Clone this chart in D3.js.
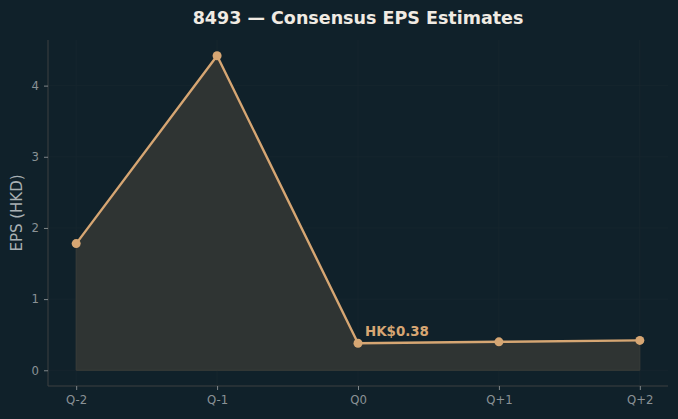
<!DOCTYPE html>
<html>
<head>
<meta charset="utf-8">
<script src="https://cdn.jsdelivr.net/npm/d3@7"></script>
<style>
  html, body { margin: 0; padding: 0; background: #10212a; }
  svg { display: block; font-family: "DejaVu Sans", sans-serif; }
</style>
</head>
<body>
<svg id="chart" width="678" height="419"></svg>
<script>
// data
const quarters = ["Q-2", "Q-1", "Q0", "Q+1", "Q+2"];
const eps = [1.78, 4.42, 0.38, 0.40, 0.42];
const yTicks = [0, 1, 2, 3, 4];
const title = "8493 \u2014 Consensus EPS Estimates";
const yLabel = "EPS (HKD)";
const note = "HK$0.38";
const noteIndex = 2;

const W = 678, H = 419;
const m = { top: 40, right: 10, bottom: 33, left: 48 };
const cW = W - m.left - m.right, cH = H - m.top - m.bottom;

const svg = d3.select("#chart");
svg.append("rect").attr("width", W).attr("height", H).attr("fill", "#10212a");

// matplotlib-style 5% margins
const n = quarters.length;
const x = d3.scaleLinear().domain([-0.2, n - 1 + 0.2]).range([0, cW]);
const yMax = d3.max(eps);
const yPad = yMax * 0.05;
const y = d3.scaleLinear().domain([-yPad, yMax + yPad]).range([cH, 0]);

const g = svg.append("g").attr("transform", `translate(${m.left},${m.top})`);

// grid, very faint
g.append("g").selectAll("line").data(yTicks).join("line")
  .attr("x1", 0).attr("x2", cW)
  .attr("y1", d => y(d)).attr("y2", d => y(d))
  .attr("stroke", "#18272f").attr("stroke-width", 0.8);
g.append("g").selectAll("line").data(quarters).join("line")
  .attr("x1", (d, i) => x(i)).attr("x2", (d, i) => x(i))
  .attr("y1", 0).attr("y2", cH)
  .attr("stroke", "#18272f").attr("stroke-width", 0.8);

// area
const area = d3.area().x((d, i) => x(i)).y0(y(0)).y1(d => y(d));
g.append("path").datum(eps).attr("d", area)
  .attr("fill", "#2f3433").attr("stroke", "#3a3d39").attr("stroke-width", 1);

// line
const line = d3.line().x((d, i) => x(i)).y(d => y(d));
g.append("path").datum(eps).attr("d", line)
  .attr("fill", "none").attr("stroke", "#d6a673").attr("stroke-width", 2.4)
  .attr("stroke-linejoin", "round");

g.append("g").selectAll("circle").data(eps).join("circle")
  .attr("cx", (d, i) => x(i)).attr("cy", d => y(d)).attr("r", 4.5)
  .attr("fill", "#d6a673");

// annotation
g.append("text")
  .attr("x", x(noteIndex) + 7).attr("y", y(eps[noteIndex]) - 7)
  .attr("fill", "#d6a673").attr("font-size", 13.4).attr("font-weight", "bold")
  .text(note);

// axes
const axisColor = "#3d4140";
const yAxis = g.append("g")
  .call(d3.axisLeft(y).tickValues(yTicks).tickFormat(d3.format("d")).tickSize(4).tickPadding(5));
const xAxis = g.append("g").attr("transform", `translate(0,${cH})`)
  .call(d3.axisBottom(x).tickValues(d3.range(n)).tickFormat(i => quarters[i]).tickSize(4).tickPadding(6));
[yAxis, xAxis].forEach(a => {
  a.select(".domain").attr("stroke", axisColor);
  a.selectAll(".tick line").attr("stroke", "#80878a");
  a.selectAll(".tick text").attr("fill", "#8a9296").attr("font-size", 11.7)
    .attr("font-family", "DejaVu Sans, sans-serif");
});
// only left and bottom spines
yAxis.select(".domain").attr("d", `M0,0V${cH}`);
xAxis.select(".domain").attr("d", `M0,0H${cW}`);

// labels
svg.append("text")
  .attr("transform", `translate(22,${m.top + cH / 2}) rotate(-90)`)
  .attr("text-anchor", "middle").attr("fill", "#a8b0b3").attr("font-size", 15)
  .text(yLabel);

svg.append("text")
  .attr("x", m.left + cW / 2).attr("y", 24)
  .attr("text-anchor", "middle").attr("fill", "#f0ebe3")
  .attr("font-size", 17.5).attr("font-weight", "bold")
  .text(title);
</script>
</body>
</html>
